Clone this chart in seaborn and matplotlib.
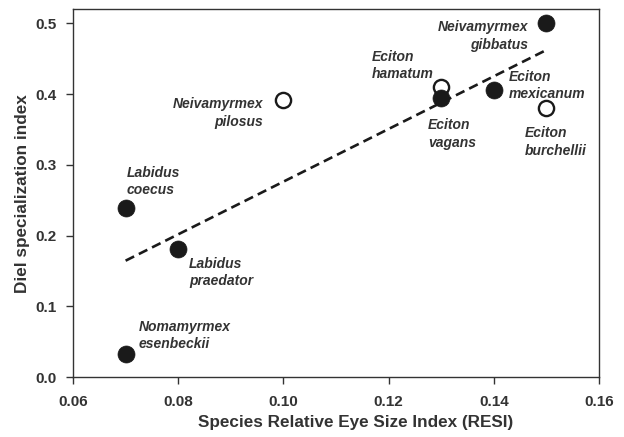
import pandas as pd
import matplotlib.pyplot as plt
import seaborn as sns

# Species values
species = [
    "Labidus\ncoecus",
    "Nomamyrmex\nesenbeckii",
    "Labidus\npraedator",
    "Neivamyrmex\npilosus",
    "Eciton\nhamatum",
    "Eciton\nvagans",
    "Eciton\nmexicanum",
    "Eciton\nburchellii",
    "Neivamyrmex\ngibbatus",
]
resi = [0.07, 0.07, 0.08, 0.10, 0.13, 0.13, 0.14, 0.15, 0.15]
diel_index = [0.239, 0.032, 0.181, 0.391, 0.410, 0.394, 0.406, 0.380, 0.500]
filled = [True, True, True, False, False, True, True, False, True]

x_ticks = [0.06, 0.08, 0.10, 0.12, 0.14, 0.16]
y_ticks = [0.0, 0.1, 0.2, 0.3, 0.4, 0.5]

# label placement: offset in pixels, ha, va, multialignment
label_pos = {
    "Labidus\ncoecus": (1, 11, "left", "bottom", "left"),
    "Nomamyrmex\nesenbeckii": (13, 3, "left", "bottom", "left"),
    "Labidus\npraedator": (11, -8, "left", "top", "left"),
    "Neivamyrmex\npilosus": (-20, 3, "right", "top", "right"),
    "Eciton\nhamatum": (-8, 6, "right", "bottom", "left"),
    "Eciton\nvagans": (-13, -20, "left", "top", "left"),
    "Eciton\nmexicanum": (15, 4, "left", "center", "left"),
    "Eciton\nburchellii": (-22, -18, "left", "top", "left"),
    "Neivamyrmex\ngibbatus": (-18, 3, "right", "top", "right"),
}

df = pd.DataFrame({"species": species, "resi": resi, "diel": diel_index, "filled": filled})

sns.set_style("ticks")
plt.rcParams["font.family"] = ["Liberation Sans", "DejaVu Sans"]

fig, ax = plt.subplots(figsize=(6.24, 4.37), dpi=100)
fig.subplots_adjust(left=0.117, right=0.96, bottom=0.137, top=0.979)

# regression line over all species
sns.regplot(data=df, x="resi", y="diel", ci=None, scatter=False, ax=ax,
            line_kws={"color": "#1a1a1a", "linestyle": (0, (3.6, 2)), "linewidth": 1.9, "zorder": 1})

sns.scatterplot(data=df[~df["filled"]], x="resi", y="diel", ax=ax, s=120,
                color="white", edgecolor="#1a1a1a", linewidth=1.7, zorder=2, legend=False)
sns.scatterplot(data=df[df["filled"]], x="resi", y="diel", ax=ax, s=150,
                color="#1a1a1a", edgecolor="#1a1a1a", linewidth=0.5, zorder=3, legend=False)

for _, row in df.iterrows():
    dx, dy, ha, va, ma = label_pos[row["species"]]
    ax.annotate(row["species"], (row["resi"], row["diel"]), xytext=(dx, dy),
                textcoords="offset pixels", ha=ha, va=va, multialignment=ma,
                fontsize=10, fontweight="bold", fontstyle="italic", color="#333333",
                linespacing=1.3)

ax.set_xlim(0.06, 0.16)
ax.set_ylim(0.0, 0.52)
ax.set_xticks(x_ticks)
ax.set_yticks(y_ticks)
ax.set_xticklabels([f"{t:.2f}" for t in x_ticks])
ax.set_yticklabels([f"{t:.1f}" for t in y_ticks])
ax.tick_params(labelsize=11, width=1, length=5, color="#333333", labelcolor="#333333")
ax.tick_params(axis="x", pad=8)
ax.tick_params(axis="y", pad=6.5)
for lab in ax.get_xticklabels() + ax.get_yticklabels():
    lab.set_fontweight("bold")
for sp in ax.spines.values():
    sp.set_color("#333333")
    sp.set_linewidth(1)

ax.set_xlabel("Species Relative Eye Size Index (RESI)", fontsize=12.3, fontweight="bold",
              color="#333333", labelpad=4, x=0.538, ha="center")
ax.set_ylabel("Diel specialization index", fontsize=12.3, fontweight="bold",
              color="#333333", labelpad=4)

fig.savefig("out.png", dpi=100)
